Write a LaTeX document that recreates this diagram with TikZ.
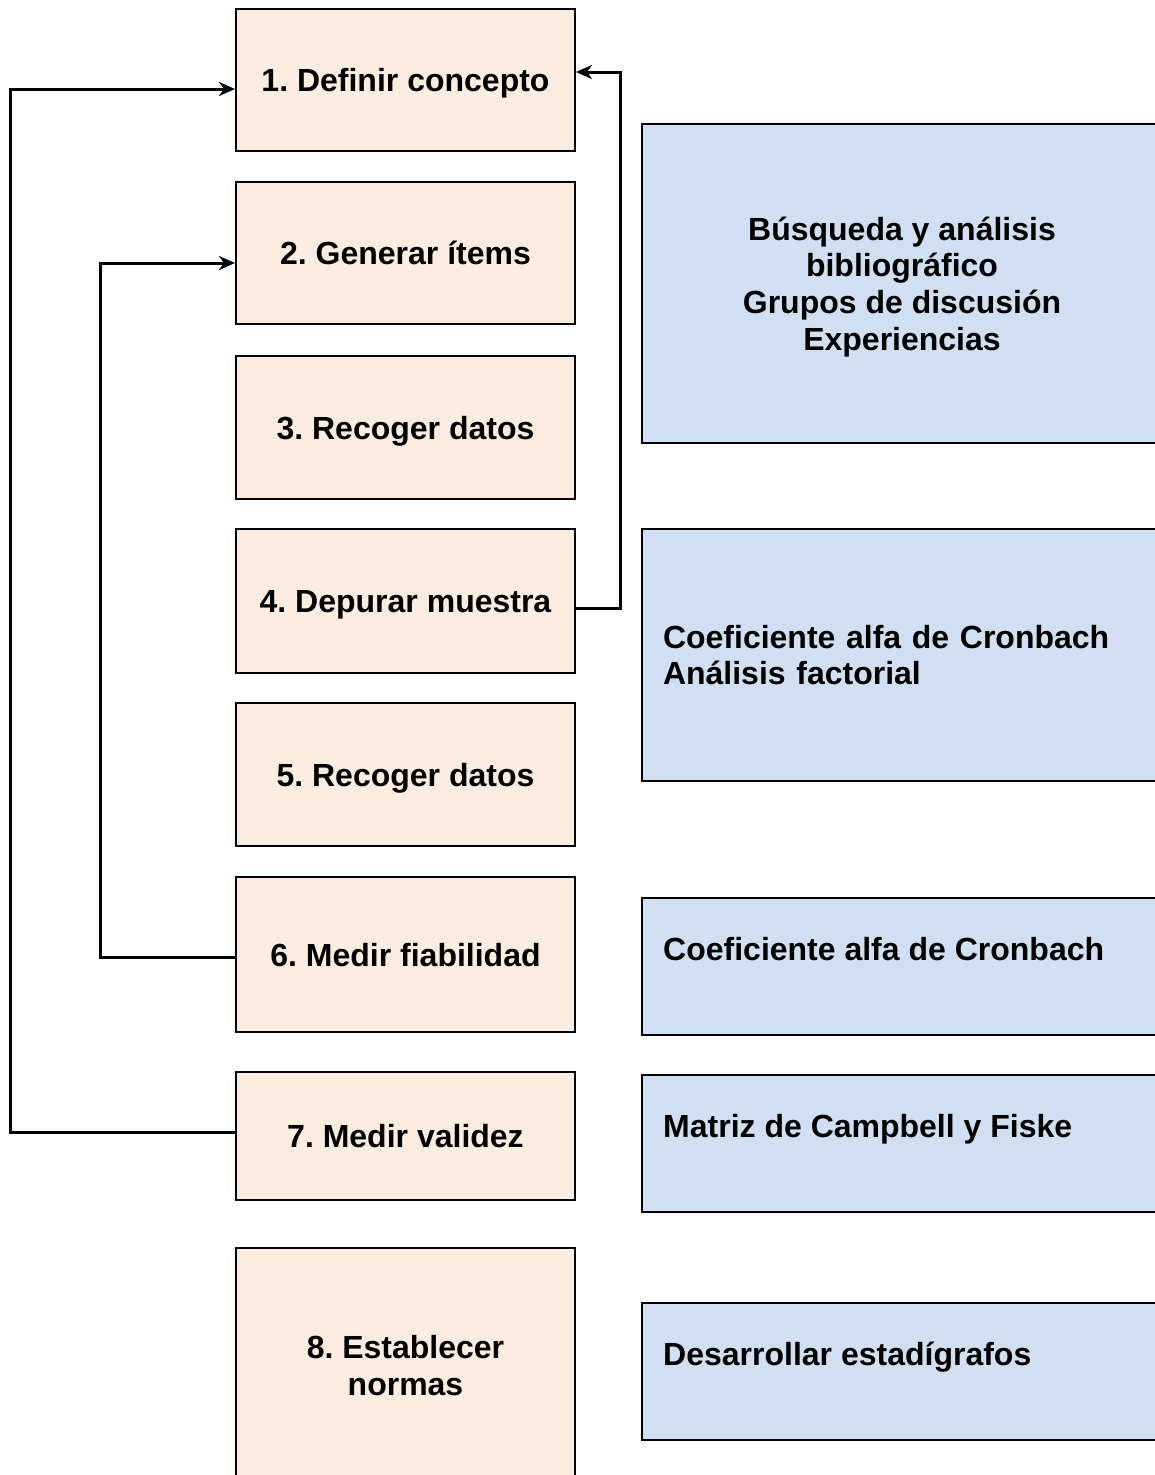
\documentclass[tikz,border=0pt]{standalone}
\usepackage{fontspec}
\setmainfont{Liberation Sans}
\usetikzlibrary{arrows.meta,calc}
\definecolor{stepfill}{HTML}{FDEDE1}
\definecolor{toolfill}{HTML}{D0E0F2}
\frenchspacing
\begin{document}
\begin{tikzpicture}[x=1pt,y=-1pt,
  every node/.style={font=\fontsize{32}{36.8}\selectfont\bfseries, inner sep=0pt},
  stepbox/.style={draw=black, line width=2pt, fill=stepfill, minimum width=339pt, align=center, text depth=0pt},
  toolbox/.style={draw=black, line width=2pt, fill=toolfill, minimum width=520pt},
  tooltext/.style={anchor=base west, align=left},
  link/.style={draw=black, line width=3pt, -{Stealth[length=16pt,width=14pt,inset=5pt]}}]
\useasboundingbox (0,0) rectangle (1154,1475);

% process steps
\node[stepbox, minimum height=142pt] (s1) at (405.5,80) {1. Definir concepto};
\node[stepbox, minimum height=142pt] (s2) at (405.5,253) {2. Generar ítems};
\node[stepbox, minimum height=143pt] (s3) at (405.5,427.5) {3. Recoger datos};
\node[stepbox, minimum height=144pt] (s4) at (405.5,601) {4. Depurar muestra};
\node[stepbox, minimum height=143pt] (s5) at (405.5,774.5) {5. Recoger datos};
\node[stepbox, minimum height=155pt] (s6) at (405.5,954.5) {6. Medir fiabilidad};
\node[stepbox, minimum height=128pt] (s7) at (405.5,1136) {7. Medir validez};
\node[stepbox, minimum height=234pt] (s8) at (405.5,1365) {8. Establecer\\normas};

% techniques
\node[toolbox, minimum height=319pt, align=center, text depth=0pt] (m1) at (902,283.5)
  {Búsqueda y análisis\\bibliográfico\\Grupos de discusión\\Experiencias};
\node[toolbox, minimum height=252pt, text width=478pt, align=left] (m2) at (902,655)
  {Coeficiente alfa de Cronbach\\Análisis factorial};
\node[toolbox, minimum height=137pt] (m3) at (902,966.5) {};
\node[toolbox, minimum height=137pt] (m4) at (902,1143.5) {};
\node[toolbox, minimum height=137pt] (m5) at (902,1371.5) {};
\node[tooltext] (t3) at (663,960) {Coeficiente alfa de Cronbach};
\node[tooltext] (t4) at (663,1137) {Matriz de Campbell y Fiske};
\node[tooltext] (t5) at (663,1365) {Desarrollar estadígrafos};

% feedback loops
\coordinate (c7) at ($(s7.west)+(0,-4)$);
\coordinate (c1l) at ($(s1.west)+(0,9)$);
\draw[link] (c7) -- (10,1132) |- (c1l);
\coordinate (c6) at ($(s6.west)+(0,2.5)$);
\coordinate (c2) at ($(s2.west)+(0,10)$);
\draw[link] (c6) -- (100,957) |- (c2);
\coordinate (c4) at ($(s4.east)+(0,7)$);
\coordinate (c1r) at ($(s1.east)+(0,-8)$);
\draw[link] (c4) -- (620,608) |- (c1r);
\end{tikzpicture}
\end{document}
